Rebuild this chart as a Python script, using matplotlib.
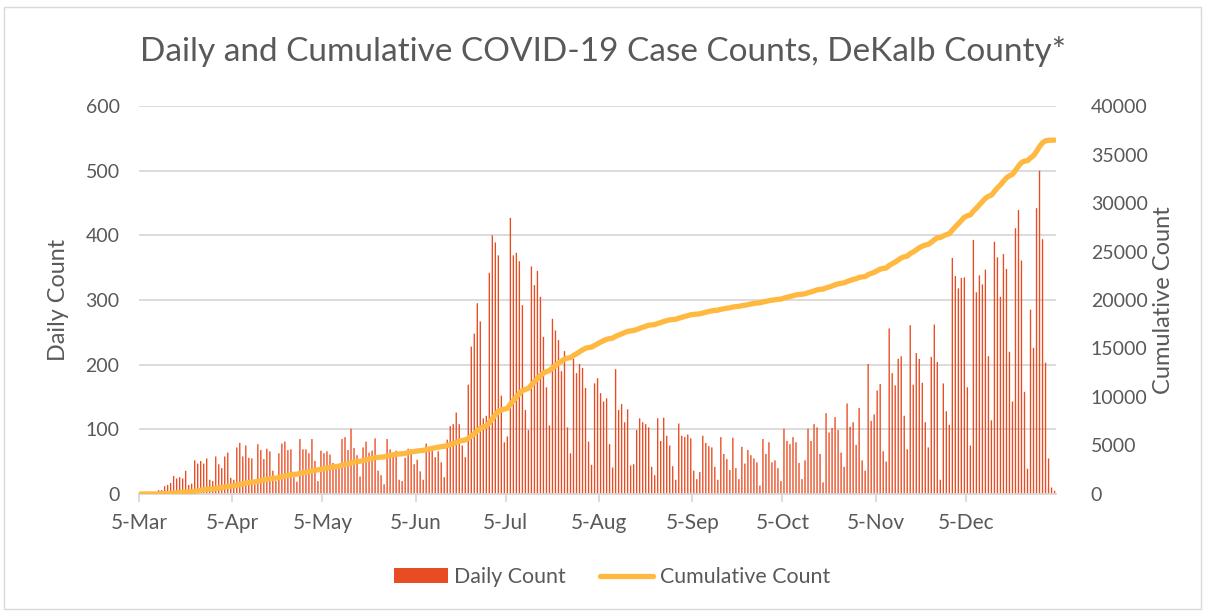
import pandas as pd
import matplotlib.pyplot as plt
from matplotlib.patches import Rectangle

# ===== DATA =====
start_date = '2020-03-05'

daily = [
    # Mar 5 - Apr 11
    0, 0, 0, 1, 2, 3,
    6, 6, 12, 14, 17, 28, 24, 26, 24, 36, 14, 16, 52, 47, 51, 47, 55, 22, 20, 58,
    46, 40, 58, 64, 25, 22, 72, 79, 58, 75, 56, 55,
    # Apr 12 - May 20
    15, 77, 68, 54, 70, 66, 36, 20, 63, 78, 81, 68, 69, 26, 19, 85, 69, 69, 63, 85,
    51, 20, 67, 63, 66, 61, 48, 42, 42, 85, 88, 68, 101, 71, 60, 27, 72, 81, 64,
    # May 21 - Jun 27
    67, 86, 36, 29, 15, 85, 69, 58, 67, 22, 20, 56, 70, 69, 46, 53, 35, 22, 78, 69,
    70, 57, 66, 49, 26, 84, 105, 108, 126, 108, 75, 57, 169, 228, 248, 295, 267, 117,
    # Jun 28 - Aug 4
    121, 342, 400, 389, 369, 152, 80, 89, 427, 369, 373, 360, 292, 130, 99, 352, 323,
    345, 305, 243, 165, 106, 271, 253, 238, 190, 221, 103, 63, 209, 187, 201, 195,
    164, 81, 45, 171, 179,
    # Aug 5 - Sep 12
    156, 143, 148, 77, 41, 193, 130, 139, 111, 131, 44, 46, 99, 117, 111, 108, 103,
    42, 29, 117, 82, 118, 90, 75, 43, 22, 109, 90, 88, 92, 86, 36, 23, 34, 90, 79,
    74, 72, 42,
    # Sep 13 - Oct 20
    22, 88, 62, 54, 37, 87, 40, 23, 73, 47, 68, 60, 55, 49, 13, 85, 62, 80, 49, 52,
    40, 20, 101, 82, 77, 88, 80, 48, 23, 52, 101, 82, 108, 103, 62, 18, 125, 95,
    # Oct 21 - Nov 27
    102, 119, 99, 64, 42, 140, 104, 111, 76, 133, 52, 36, 201, 113, 123, 160, 170,
    66, 50, 256, 187, 168, 209, 213, 121, 69, 261, 169, 218, 209, 172, 111, 72, 212,
    262, 204, 22, 171,
    # Nov 28 - Jan 3
    128, 107, 365, 337, 318, 334, 335, 165, 75, 393, 312, 338, 324, 347, 213, 114,
    390, 366, 305, 371, 348, 220, 143, 411, 439, 361, 158, 39, 285, 226, 442, 500,
    394, 203, 55, 10, 5,
]

tick_labels = ['5-Mar', '5-Apr', '5-May', '5-Jun', '5-Jul', '5-Aug',
               '5-Sep', '5-Oct', '5-Nov', '5-Dec']
left_ticks = [0, 100, 200, 300, 400, 500, 600]
right_ticks = [0, 5000, 10000, 15000, 20000, 25000, 30000, 35000, 40000]

# ===== PREP =====
df = pd.DataFrame({'daily': daily})
df['date'] = pd.date_range(start_date, periods=len(df))
df['cumulative'] = df['daily'].cumsum()
x = range(len(df))

tick_dates = pd.date_range('2020-03-01', periods=len(tick_labels), freq='MS') + pd.Timedelta(days=4)
tick_pos = [(d - df['date'].iloc[0]).days - 0.5 for d in tick_dates]

plt.rcParams['font.family'] = ['Lato', 'DejaVu Sans']
text_color = '#595959'
grid_color = '#D9D9D9'

# ===== PLOT =====
fig = plt.figure(figsize=(12.05, 6.11), dpi=100)
ax = fig.add_axes([0.1154, 0.1915, 0.7610, 0.6350])
ax2 = ax.twinx()

bars = ax.bar(x, df['daily'], width=0.45, color='#E84C22', zorder=2, label='Daily Count')
for b in bars:
    b.set_snap(False)
ax2.plot(x, df['cumulative'], color='#FFB940', linewidth=3.8,
         solid_capstyle='round', label='Cumulative Count')

ax.set_xlim(-0.5, len(df) - 0.5)
ax.set_ylim(0, 600)
ax2.set_ylim(0, 40000)
ax.set_yticks(left_ticks)
ax2.set_yticks(right_ticks)
ax.set_xticks(tick_pos)
ax.set_xticklabels(tick_labels)

ax.grid(axis='y', color=grid_color, linewidth=1.3, zorder=0)
ax.set_axisbelow(True)

for a in (ax, ax2):
    for s in a.spines.values():
        s.set_visible(False)
ax.spines['bottom'].set_visible(True)
ax.spines['bottom'].set_color(grid_color)
ax.spines['bottom'].set_linewidth(1.3)

ax.tick_params(axis='x', colors=grid_color, length=6, width=1.3,
               labelcolor=text_color, labelsize=15, pad=8)
ax.tick_params(axis='y', length=0, labelcolor=text_color, labelsize=14, pad=14)
ax2.tick_params(axis='y', length=0, labelcolor=text_color, labelsize=14, pad=25)

ax.set_ylabel('Daily Count', fontsize=16.8, color=text_color, labelpad=12)
ax2.set_ylabel('Cumulative Count', fontsize=17, color=text_color,
               rotation=90, labelpad=4)

fig.text(0.5, 0.916, 'Daily and Cumulative COVID-19 Case Counts, DeKalb County*',
         fontsize=24, color=text_color, ha='center', va='center')

h1, l1 = ax.get_legend_handles_labels()
h2, l2 = ax2.get_legend_handles_labels()
fig.legend(h1 + h2, l1 + l2, loc='center', bbox_to_anchor=(0.508, 0.055),
           ncol=2, frameon=False, fontsize=15.4, labelcolor=text_color,
           handlelength=2.5, handletextpad=0.3, columnspacing=1.6)

fig.patches.append(Rectangle((0.003, 0.003), 0.994, 0.985, transform=fig.transFigure,
                             fill=False, edgecolor=grid_color, linewidth=1))

plt.savefig('out.png', dpi=100)
